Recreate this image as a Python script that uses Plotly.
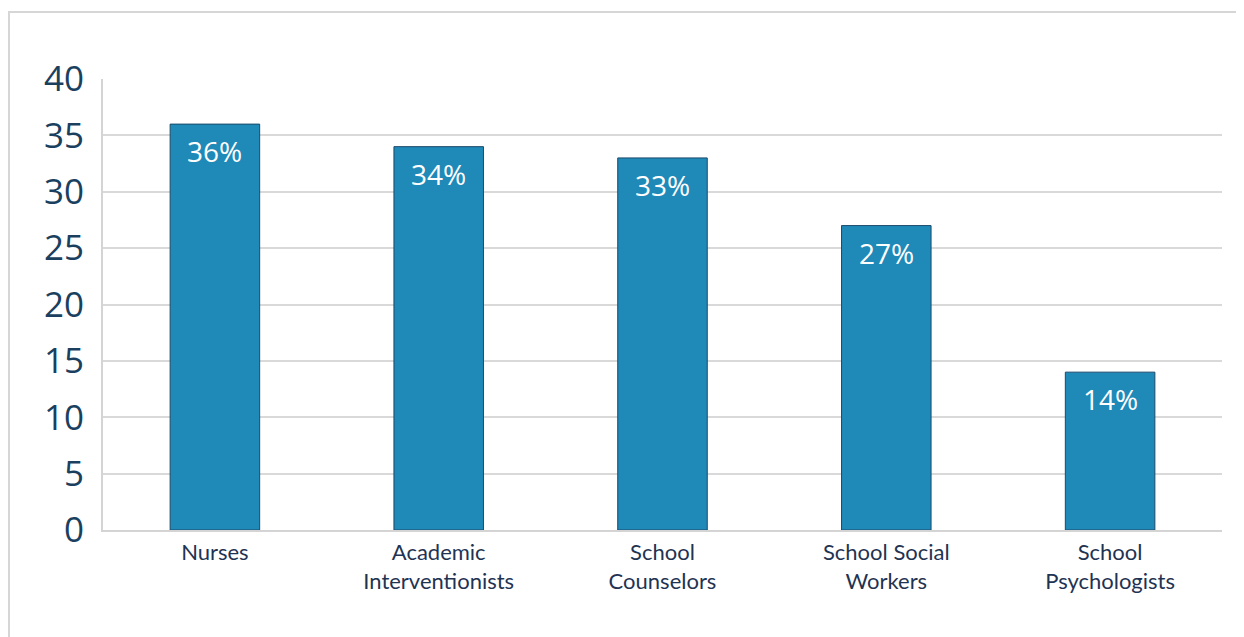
import plotly.graph_objects as go

categories = ["Nurses", "Academic<br>Interventionists", "School<br>Counselors",
              "School Social<br>Workers", "School<br>Psychologists"]
values = [36, 34, 33, 27, 14]
labels = ["36%", "34%", "33%", "27%", "14%"]
ytick_vals = [0, 5, 10, 15, 20, 25, 30, 35, 40]

fig = go.Figure()
fig.add_trace(go.Bar(
    x=categories, y=values, width=0.4,
    marker=dict(color="#1f89b8", line=dict(color="#1b4a6a", width=1)),
    hoverinfo="skip",
))

for c, v, t in zip(categories, values, labels):
    fig.add_annotation(x=c, y=v, text=t, showarrow=False, yanchor="top",
                       yshift=-6, font=dict(family="Open Sans", size=28, color="white"))

# outer frame
fig.add_shape(type="rect", xref="paper", yref="paper",
              x0=-0.084, x1=1.06, y0=-0.4, y1=1.1486,
              line=dict(color="#d6d6d6", width=2), layer="below")

fig.update_layout(
    width=1244, height=637,
    margin=dict(l=95, r=30, t=71, b=115),
    plot_bgcolor="white", paper_bgcolor="white",
    showlegend=False,
    xaxis=dict(showline=True, linecolor="#d4d4d4", linewidth=2,
               tickfont=dict(family="Lato", size=22, color="#1f3352"),
               ticks="", ticklabelstandoff=2, fixedrange=True),
    yaxis=dict(range=[0, 40], tickvals=ytick_vals, showgrid=True,
               gridcolor="#d9d9d9", gridwidth=2,
               showline=True, linecolor="#d4d4d4", linewidth=2,
               zeroline=False,
               tickfont=dict(family="Open Sans", size=35, color="#1b3f5e"),
               ticks="", ticklabelstandoff=10, fixedrange=True),
)

fig.write_html("out.html")
